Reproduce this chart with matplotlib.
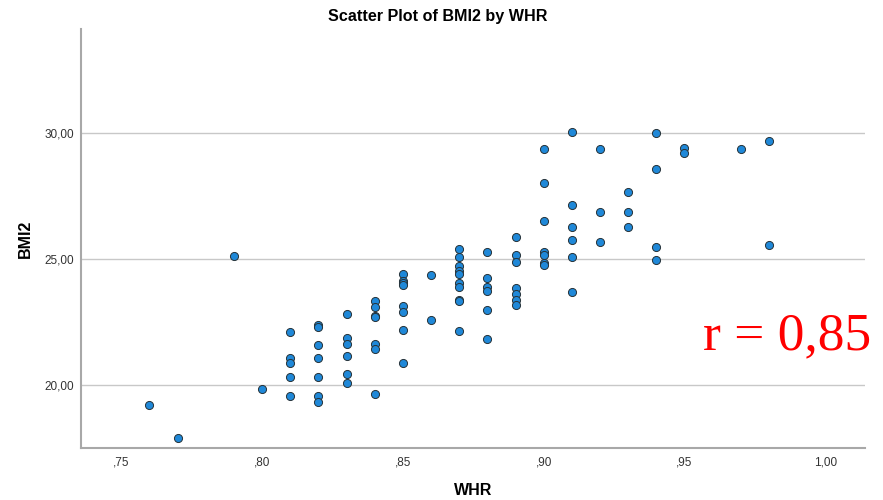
import matplotlib
matplotlib.use('Agg')
import numpy as np
from matplotlib import pyplot as plt
from matplotlib.ticker import FuncFormatter

# WHR values (one entry per point) and matching BMI2 values
whr = [0.76, 0.77, 0.79, 0.80,
       0.81, 0.81, 0.81, 0.81, 0.81,
       0.82, 0.82, 0.82, 0.82, 0.82, 0.82, 0.82,
       0.83, 0.83, 0.83, 0.83, 0.83, 0.83,
       0.84, 0.84, 0.84, 0.84, 0.84, 0.84, 0.84,
       0.85, 0.85, 0.85, 0.85, 0.85, 0.85, 0.85, 0.85,
       0.86, 0.86,
       0.87, 0.87, 0.87, 0.87, 0.87, 0.87, 0.87, 0.87, 0.87, 0.87,
       0.88, 0.88, 0.88, 0.88, 0.88, 0.88,
       0.89, 0.89, 0.89, 0.89, 0.89, 0.89, 0.89,
       0.90, 0.90, 0.90, 0.90, 0.90, 0.90, 0.90,
       0.91, 0.91, 0.91, 0.91, 0.91, 0.91,
       0.92, 0.92, 0.92,
       0.93, 0.93, 0.93,
       0.94, 0.94, 0.94, 0.94,
       0.95, 0.95,
       0.97,
       0.98, 0.98]
bmi2 = [19.20, 17.88, 25.12, 19.82,
        22.10, 21.06, 20.88, 20.30, 19.56,
        22.38, 22.30, 21.56, 21.06, 20.30, 19.56, 19.30,
        22.80, 21.86, 21.62, 21.12, 20.42, 20.05,
        23.32, 23.10, 22.74, 22.68, 21.62, 21.41, 19.64,
        24.42, 24.14, 24.03, 23.96, 23.12, 22.90, 22.16, 20.85,
        24.35, 22.57,
        25.39, 25.06, 24.73, 24.51, 24.42, 24.06, 23.88, 23.37, 23.32, 22.14,
        25.28, 24.24, 23.89, 23.74, 22.98, 21.81,
        25.88, 25.16, 24.87, 23.86, 23.60, 23.35, 23.17,
        29.39, 28.01, 26.52, 25.29, 25.15, 24.85, 24.76,
        30.07, 27.14, 26.27, 25.75, 25.08, 23.70,
        29.36, 26.86, 25.66,
        27.65, 26.86, 26.27,
        30.00, 28.57, 25.48, 24.97,
        29.40, 29.21,
        29.37,
        29.71, 25.55]

x_ticks = [0.75, 0.80, 0.85, 0.90, 0.95, 1.00]
y_ticks = [20, 25, 30]
r_label = 'r = 0,85'

plt.rcParams['font.family'] = ['Liberation Sans', 'DejaVu Sans']

fig = plt.figure(figsize=(8.83, 5.0), dpi=100)
ax = fig.add_axes([0.0917, 0.1046, 0.8879, 0.8374])

ax.scatter(whr, bmi2, s=34, c='#1f88d8', edgecolors='#263238', linewidths=0.7, zorder=3)

ax.set_xlim(0.7357, 1.0141)
ax.set_ylim(17.49, 34.15)
ax.set_xticks(x_ticks)
ax.set_yticks(y_ticks)


def comma_fmt(v, pos):
    s = f'{v:.2f}'.replace('.', ',')
    if s.startswith('0'):
        s = s[1:]
    return s


ax.xaxis.set_major_formatter(FuncFormatter(comma_fmt))
ax.yaxis.set_major_formatter(FuncFormatter(comma_fmt))
ax.tick_params(axis='x', length=0, labelsize=8.5, labelcolor='#333333', pad=6)
ax.tick_params(axis='y', length=0, labelsize=8.5, labelcolor='#333333', pad=5)

ax.yaxis.grid(True, color='#c8c8c8', linewidth=1.0, zorder=0)
ax.set_axisbelow(True)
for side in ['top', 'right']:
    ax.spines[side].set_visible(False)
for side in ['left', 'bottom']:
    ax.spines[side].set_color('#a8a8a8')
    ax.spines[side].set_linewidth(1.5)

fig.text(0.496, 0.968, 'Scatter Plot of BMI2 by WHR', fontsize=11.6, fontweight='bold',
         ha='center', va='center')
ax.set_xlabel('WHR', fontsize=11.5, fontweight='bold', labelpad=11)
ax.set_ylabel('BMI2', fontsize=11.5, fontweight='bold', labelpad=8)

fig.text(0.796, 0.302, r_label, color='red', fontsize=38.5,
         family=['Liberation Serif', 'DejaVu Serif'], ha='left', va='baseline')

plt.savefig('out.png', dpi=100)
